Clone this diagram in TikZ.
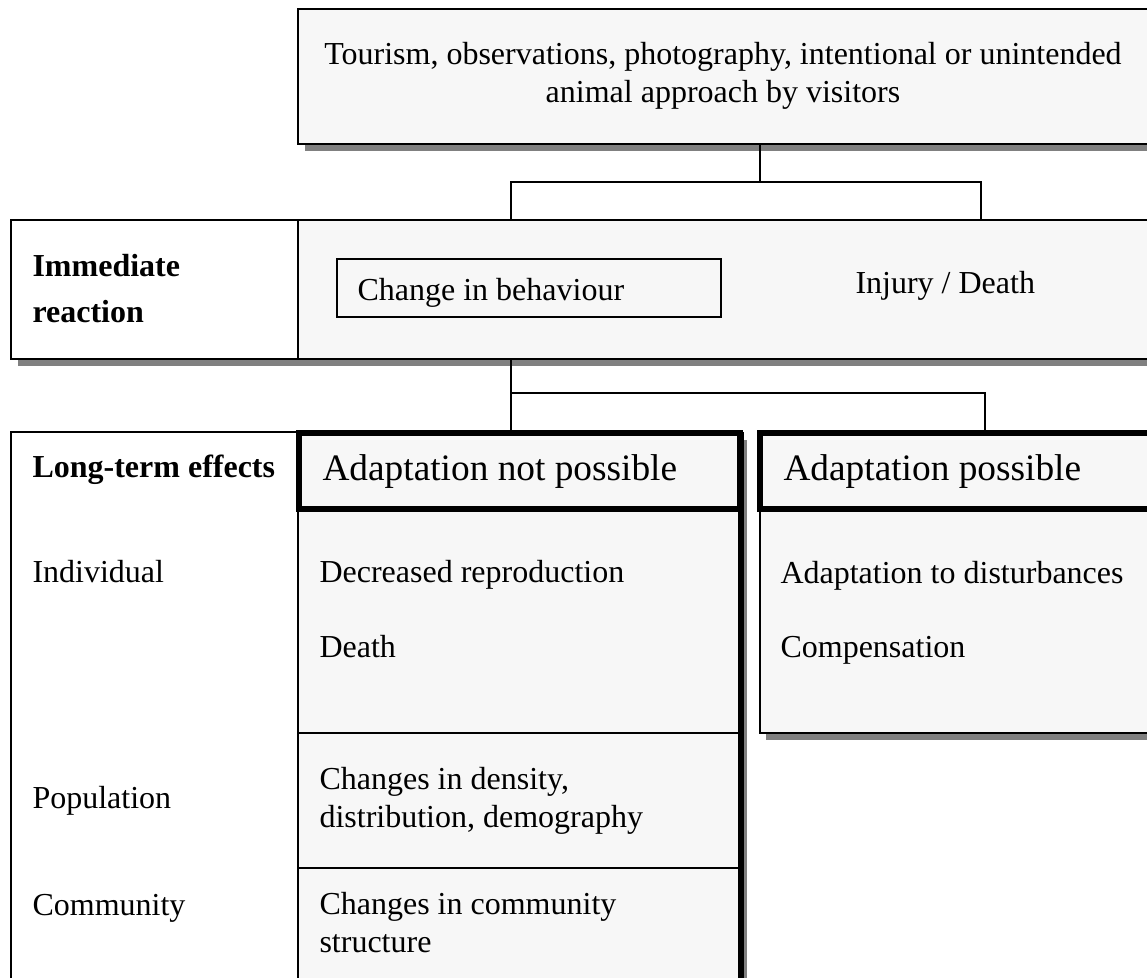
\documentclass[tikz,border=0pt]{standalone}
\usepackage{fontspec}
\setmainfont{Liberation Serif}
\usetikzlibrary{fit,shadows}
\definecolor{panel}{HTML}{F7F7F7}
\definecolor{shadowgrey}{HTML}{808080}
\tikzset{
  panelbox/.style = {draw, fill=panel, line width=0.75pt, inner sep=0pt},
  whitebox/.style = {draw, fill=white, line width=0.75pt, inner sep=0pt},
  headbox/.style = {draw, fill=panel, line width=2.25pt, inner sep=0pt},
  castshadow/.style = {drop shadow={shadow xshift=2.6pt, shadow yshift=-2.6pt, fill=shadowgrey, opacity=1}},
  txt/.style = {anchor=base west, inner sep=0pt, align=left, font=\fontsize{12}{13.9}\selectfont},
  bigtxt/.style = {txt, font=\fontsize{14}{16}\selectfont},
  boldtxt/.style = {txt, font=\fontsize{12}{16.9}\selectfont\bfseries},
  link/.style = {line width=0.75pt}
}
\begin{document}
\begin{tikzpicture}[x=0.375pt, y=-0.375pt]
\useasboundingbox (0,0) rectangle (1147,977);

\node (source) [panelbox, castshadow, fit={(298,9) (1170,144)}] {};
\node (sourcetxt) [txt, anchor=base, align=center] at (723,102) {Tourism, observations, photography, intentional or unintended\\animal approach by visitors};

\node (reactrow) [whitebox, castshadow, fit={(11,220) (1170,359)}] {};
\node (reactcell) [panelbox, fit={(298,220) (1170,359)}] {};
\node (reacttxt) [boldtxt] at (32,322) {Immediate\\reaction};
\node (behaviour) [panelbox, fit={(337,259) (721,317)}] {};
\node (behaviourtxt) [txt] at (357,300) {Change in behaviour};
\node (injury) [txt] at (855,293) {Injury / Death};

\coordinate (forka) at (760,182);
\coordinate (forkal) at (511,182);
\coordinate (forkar) at (981,182);
\draw [link] (source.south -| forka) -- (forka);
\draw [link] (reactrow.north -| forkal) -- (forkal) -- (forkar) -- (reactrow.north -| forkar);

\node (longterm) [whitebox, fit={(11,432) (298,1000)}] {};
\node (notcol) [panelbox, castshadow, fit={(298,433) (740,1000)}] {};
\node (poscol) [panelbox, castshadow, fit={(759.5,433) (1170,733)}] {};
\draw [line width=2.25pt] (notcol.north east) -- (notcol.south east);
\draw [link] (notcol.west |- 0,733) -- (notcol.east |- 0,733);
\draw [link] (notcol.west |- 0,868) -- (notcol.east |- 0,868);
\node (notposs) [headbox, fit={(299,433) (740,509)}] {};
\node (poss) [headbox, fit={(759.5,433) (1170,509)}] {};

\coordinate (forkb) at (511,393);
\coordinate (forkc) at (985,393);
\draw [link] (reactrow.south -| forkb) -- (notposs.north -| forkb);
\draw [link] (forkb) -- (forkc) -- (poss.north -| forkc);

\node (longtxt) [boldtxt] at (32,477) {Long-term effects};
\node (notposstxt) [bigtxt] at (322,480) {Adaptation not possible};
\node (posstxt) [bigtxt] at (783,480) {Adaptation possible};

\node (individual) [txt] at (32,582) {Individual};
\node (reproduction) [txt] at (319,582) {Decreased reproduction};
\node (death) [txt] at (319,657) {Death};
\node (disturbances) [txt] at (780,583) {Adaptation to disturbances};
\node (compensation) [txt] at (780,657) {Compensation};

\node (population) [txt] at (32,808) {Population};
\node (density) [txt] at (319,827) {Changes in density,\\distribution, demography};

\node (community) [txt] at (32,915) {Community};
\node (structure) [txt] at (319,952) {Changes in community\\structure};
\end{tikzpicture}
\end{document}
